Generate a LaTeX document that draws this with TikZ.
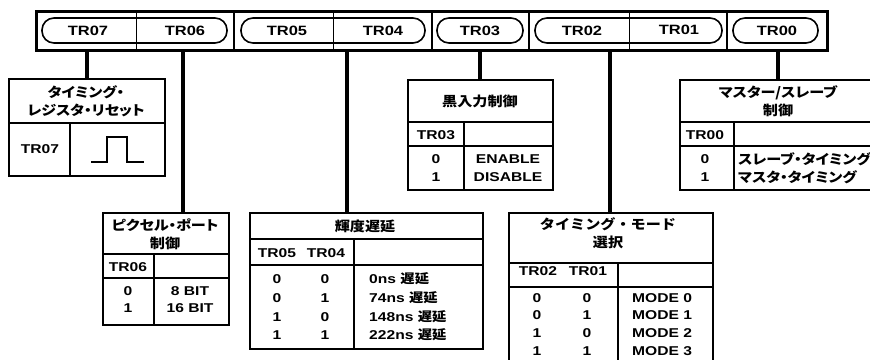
\documentclass[tikz,border=0pt]{standalone}
\usepackage{fontspec}
\setmainfont{Liberation Sans}[FakeStretch=1.22]
\newfontfamily\jp{Noto Sans CJK JP}[FakeStretch=1.12, RawFeature=+palt]
\newfontfamily\jpw{Noto Sans CJK JP}[FakeStretch=1.12]
\begin{document}
\begin{tikzpicture}[x=1pt,y=-1pt,
  box/.style={draw, line width=2.2pt, inner sep=0pt, anchor=north west},
  rule/.style={line width=2.2pt},
  conn/.style={line width=3.4pt},
  capsule/.style={draw, line width=1.6pt, rounded corners=12pt},
  reglab/.style={font=\bfseries\fontsize{13.5}{13.5}\selectfont, inner sep=0pt},
  lab/.style={font=\bfseries\fontsize{12.8}{12.8}\selectfont, inner sep=0pt},
  jtxt/.style={font=\jp\bfseries\fontsize{13.5}{18}\selectfont, align=center, inner sep=0pt},
  jtxtw/.style={font=\jpw\bfseries\fontsize{13.5}{18}\selectfont, align=center, inner sep=0pt},
  jrow/.style={font=\jp\bfseries\fontsize{13.5}{18}\selectfont, inner sep=0pt, anchor=west}]
\useasboundingbox (0,0) rectangle (870,359);
\clip (0,0) rectangle (870,359);

% ---------- register ----------
\draw[capsule] (42,18) rectangle (227,43);
\draw[capsule] (241,18) rectangle (425,43);
\draw[capsule] (437,18) rectangle (523,43);
\draw[capsule] (535,18) rectangle (722,43);
\draw[capsule] (733,18) rectangle (818,43);
\draw[line width=1pt] (136,11) -- (136,50);
\draw[line width=2.2pt] (234,11) -- (234,50);
\draw[line width=1pt] (333,11) -- (333,50);
\draw[line width=2.2pt] (432,11) -- (432,50);
\draw[line width=1.8pt] (529,11) -- (529,50);
\draw[line width=1pt] (629,11) -- (629,50);
\draw[line width=1.8pt] (727,11) -- (727,50);
\draw[line width=3pt] (36,11) rectangle (827,50);

\node[reglab] (r7) at (88,31) {TR07};
\node[reglab] (r6) at (185,31) {TR06};
\node[reglab] (r5) at (287,31) {TR05};
\node[reglab] (r4) at (383,31) {TR04};
\node[reglab] (r3) at (480,31) {TR03};
\node[reglab] (r2) at (582,31) {TR02};
\node[reglab] (r1) at (679,30) {TR01};
\node[reglab] (r0) at (777,31) {TR00};

\coordinate (c7) at (87,50);
\coordinate (c6) at (183,50);
\coordinate (c54) at (347,50);
\coordinate (c3) at (480,50);
\coordinate (c21) at (610,50);
\coordinate (c0) at (778,50);

% ---------- TR07 box ----------
\node[box, minimum width=156pt, minimum height=97pt] (b7) at (8,78) {};
\draw[rule] (8,123) -- (164,123);
\draw[rule] (70,123) -- (70,175);
\node[jtxt] (b7t) at (86,101) {タイミング・\\レジスタ・リセット};
\node[lab] (b7h) at (40,149) {TR07};
\draw[line width=2.2pt] (91,162) -- (107,162) -- (107,137) -- (127,137) -- (127,162) -- (144,162);
\draw[conn] (c7) -- (c7 |- b7.north);

% ---------- black input box ----------
\node[box, minimum width=145pt, minimum height=110pt] (b3) at (407,79) {};
\draw[rule] (407,122) -- (552,122);
\draw[rule] (407,146) -- (552,146);
\draw[rule] (464,122) -- (464,189);
\node[jtxtw] (b3t) at (480,101) {黒入力制御};
\node[lab] (b3h) at (436,135) {TR03};
\node[lab] (b3a) at (436,159) {0};
\node[lab] (b3b) at (436,177) {1};
\node[lab] (b3c) at (508,159) {ENABLE};
\node[lab] (b3d) at (508,177) {DISABLE};
\draw[conn] (c3) -- (c3 |- b3.north);

% ---------- master/slave box ----------
\node[box, minimum width=198pt, minimum height=110pt] (b0) at (679,79) {};
\draw[rule] (679,122) -- (877,122);
\draw[rule] (679,146) -- (877,146);
\draw[rule] (734,122) -- (734,189);
\node[jtxt] (b0t) at (778,101) {マスター/スレーブ\\制御};
\node[lab] (b0h) at (705,135) {TR00};
\node[lab] (b0a) at (705,159) {0};
\node[lab] (b0b) at (705,177) {1};
\node[jrow] (b0c) at (738,159) {スレーブ・タイミング};
\node[jrow] (b0d) at (738,177) {マスタ・タイミング};
\draw[conn] (c0) -- (c0 |- b0.north);

% ---------- pixel port box ----------
\node[box, minimum width=126pt, minimum height=112pt] (b6) at (102,212) {};
\draw[rule] (102,254) -- (228,254);
\draw[rule] (102,278) -- (228,278);
\draw[rule] (154,254) -- (154,324);
\node[jtxt] (b6t) at (165,234) {ピクセル・ポート\\制御};
\node[lab] (b6h) at (128,267) {TR06};
\node[lab] (b6a) at (128,291) {0};
\node[lab] (b6b) at (128,308) {1};
\node[lab] (b6c) at (190,291) {8 BIT};
\node[lab] (b6d) at (190,308) {16 BIT};
\draw[conn] (c6) -- (c6 |- b6.north);

% ---------- luminance delay box ----------
\node[box, minimum width=233pt, minimum height=136pt] (b54) at (249,212) {};
\draw[rule] (249,239) -- (482,239);
\draw[rule] (249,265) -- (482,265);
\draw[rule] (354,239) -- (354,348);
\node[jtxtw] (b54t) at (365,226) {輝度遅延};
\node[lab] (b54h1) at (277,253) {TR05};
\node[lab] (b54h2) at (326,253) {TR04};
\node[lab] (l1a) at (277,279) {0};
\node[lab] (l1b) at (325,279) {0};
\node[lab] (l2a) at (277,298) {0};
\node[lab] (l2b) at (325,298) {1};
\node[lab] (l3a) at (277,317) {1};
\node[lab] (l3b) at (325,317) {0};
\node[lab] (l4a) at (277,335) {1};
\node[lab] (l4b) at (325,335) {1};
\node[lab, anchor=west] (l1c) at (369,279) {0ns {\jpw\bfseries 遅延}};
\node[lab, anchor=west] (l2c) at (369,298) {74ns {\jpw\bfseries 遅延}};
\node[lab, anchor=west] (l3c) at (369,317) {148ns {\jpw\bfseries 遅延}};
\node[lab, anchor=west] (l4c) at (369,335) {222ns {\jpw\bfseries 遅延}};
\draw[conn] (c54) -- (c54 |- b54.north);

% ---------- timing mode box ----------
\node[box, minimum width=204pt, minimum height=155pt] (b21) at (508,212) {};
\draw[rule] (508,263) -- (712,263);
\draw[rule] (508,287) -- (712,287);
\draw[rule] (618,263) -- (618,367);
\node[jtxtw] (b21t) at (608,233) {タイミング・モード\\選択};
\node[lab] (b21h1) at (538,271) {TR02};
\node[lab] (b21h2) at (588,271) {TR01};
\node[lab] (m1a) at (537,298) {0};
\node[lab] (m1b) at (587,298) {0};
\node[lab] (m2a) at (537,315) {0};
\node[lab] (m2b) at (587,315) {1};
\node[lab] (m3a) at (537,333) {1};
\node[lab] (m3b) at (587,333) {0};
\node[lab] (m4a) at (537,351) {1};
\node[lab] (m4b) at (587,351) {1};
\node[lab, anchor=west] (m1c) at (632,298) {MODE 0};
\node[lab, anchor=west] (m2c) at (632,315) {MODE 1};
\node[lab, anchor=west] (m3c) at (632,333) {MODE 2};
\node[lab, anchor=west] (m4c) at (632,351) {MODE 3};
\draw[conn] (c21) -- (c21 |- b21.north);
\end{tikzpicture}
\end{document}
